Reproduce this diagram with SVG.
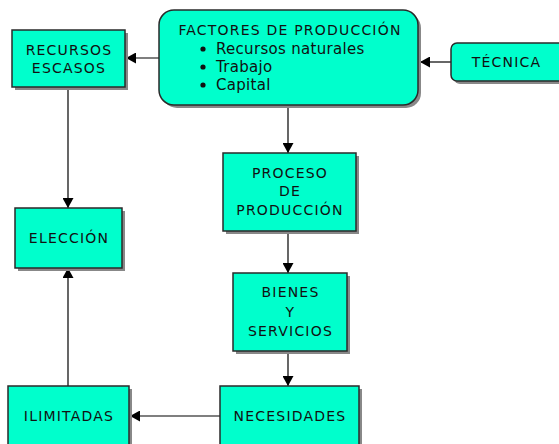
<svg xmlns="http://www.w3.org/2000/svg" width="559" height="444" viewBox="0 0 559 444">
<style>
.box{fill:#00FFCC;stroke:#2a2a2a;stroke-width:1.5}
.sh{fill:#888}
.t{font-family:"DejaVu Sans",Verdana,sans-serif;font-size:14px;letter-spacing:1.2px;fill:#111;text-anchor:middle}
.b{font-family:"DejaVu Sans",Verdana,sans-serif;font-size:15px;letter-spacing:0.3px;fill:#111}
.c{stroke:#000;stroke-width:1.2;fill:none;marker-end:url(#ah)}
</style>
<defs>
<marker id="ah" markerUnits="userSpaceOnUse" markerWidth="11" markerHeight="11" refX="10" refY="5.5" orient="auto">
<path d="M0,0 L10,5.5 L0,11 z" fill="#000"/>
</marker>
</defs>
<g id="connectors">
<path class="c" d="M159,58 L126,58"/>
<path class="c" d="M451,62 L420,62"/>
<path class="c" d="M288,105 L288,153"/>
<path class="c" d="M68,87 L68,208"/>
<path class="c" d="M288,231 L288,273"/>
<path class="c" d="M288,351 L288,386"/>
<path class="c" d="M220,416 L130,416"/>
<path class="c" d="M68,386 L68,268"/>
</g>
<g id="recursos">
<rect class="sh" x="15" y="33" width="113" height="57"/>
<rect class="box" x="12" y="30" width="113" height="57"/>
<text class="t" x="69" y="55">RECURSOS</text>
<text class="t" x="69" y="73">ESCASOS</text>
</g>
<g id="factores">
<rect class="sh" x="162" y="13" width="259" height="95" rx="15"/>
<rect class="box" x="159" y="10" width="259" height="95" rx="15"/>
<text class="t" x="290" y="35">FACTORES DE PRODUCCIÓN</text>
<circle cx="203" cy="49" r="2.6" fill="#111"/>
<circle cx="203" cy="67" r="2.6" fill="#111"/>
<circle cx="203" cy="85" r="2.6" fill="#111"/>
<text class="b" x="216" y="54">Recursos naturales</text>
<text class="b" x="216" y="72">Trabajo</text>
<text class="b" x="216" y="90">Capital</text>
</g>
<g id="tecnica">
<rect class="sh" x="454" y="46" width="130" height="38" rx="6"/>
<rect class="box" x="451" y="43" width="130" height="38" rx="6"/>
<text class="t" x="506.5" y="67">TÉCNICA</text>
</g>
<g id="proceso">
<rect class="sh" x="226" y="156" width="133" height="78"/>
<rect class="box" x="223" y="153" width="133" height="78"/>
<text class="t" x="290" y="178">PROCESO</text>
<text class="t" x="290" y="196">DE</text>
<text class="t" x="290" y="215">PRODUCCIÓN</text>
</g>
<g id="eleccion">
<rect class="sh" x="18" y="211" width="107" height="60"/>
<rect class="box" x="15" y="208" width="107" height="60"/>
<text class="t" x="69" y="243">ELECCIÓN</text>
</g>
<g id="bienes">
<rect class="sh" x="236" y="276" width="114" height="78"/>
<rect class="box" x="233" y="273" width="114" height="78"/>
<text class="t" x="290.5" y="297">BIENES</text>
<text class="t" x="290.5" y="317">Y</text>
<text class="t" x="290.5" y="336">SERVICIOS</text>
</g>
<g id="necesidades">
<rect class="sh" x="223" y="389" width="139" height="70"/>
<rect class="box" x="220" y="386" width="139" height="70"/>
<text class="t" x="290" y="421">NECESIDADES</text>
</g>
<g id="ilimitadas">
<rect class="sh" x="11" y="389" width="121" height="70"/>
<rect class="box" x="8" y="386" width="121" height="70"/>
<text class="t" x="69" y="421">ILIMITADAS</text>
</g>
</svg>
